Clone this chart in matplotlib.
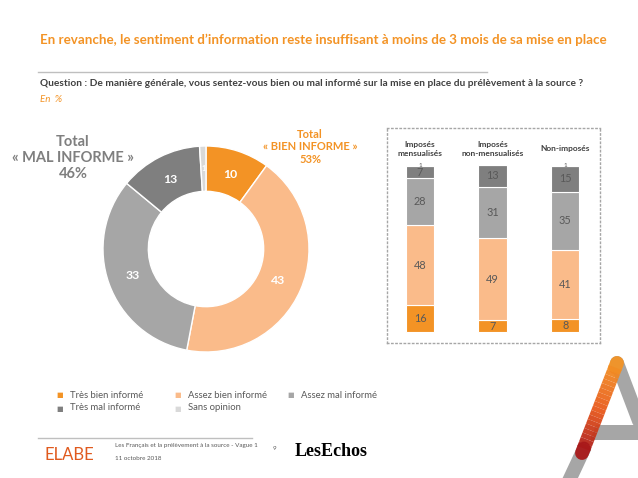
import numpy as np
import matplotlib.pyplot as plt
from matplotlib.patches import Polygon

plt.rcParams['font.family'] = ['Lato', 'DejaVu Sans']

# --- data ---
categories = ['Très bien informé', 'Assez bien informé', 'Assez mal informé',
              'Très mal informé', 'Sans opinion']
colors = ['#F39325', '#FABB8A', '#A6A6A6', '#7F7F7F', '#D9D9D9']
total_values = [10, 43, 33, 13, 1]

groups = ['Imposés\nmensualisés', 'Imposés\nnon-mensualisés', 'Non-imposés']
tres_bien = [16, 7, 8]
assez_bien = [48, 49, 41]
assez_mal = [28, 31, 35]
tres_mal = [7, 13, 15]
sans_opinion = [1, 0, 1]

W, H = 638, 478
fig = plt.figure(figsize=(W / 100, H / 100), dpi=100)


def fx(x):
    return x / W


def fy(y):
    return 1 - y / H


ORANGE = '#F39325'
DARK = '#404040'

# header
fig.text(fx(323), fy(40), "En revanche, le sentiment d’information reste insuffisant à moins de 3 mois de sa mise en place",
         color=ORANGE, fontsize=9.6, fontweight='bold', ha='center', va='center')
fig.add_artist(plt.Line2D([fx(38), fx(487)], [fy(72), fy(72)], color='#BFBFBF', lw=1))
fig.text(fx(40), fy(84), "Question : De manière générale, vous sentez-vous bien ou mal informé sur la mise en place du prélèvement à la source ?",
         color=DARK, fontsize=7.3, fontweight='bold', va='center')
fig.text(fx(40), fy(100), "En  %", color=ORANGE, fontsize=7, style='italic', va='center')

# donut
cx, cy, R = 206, 249, 103
ax = fig.add_axes([fx(cx - R), fy(cy + R), 2 * R / W, 2 * R / H])
wedges, _ = ax.pie(total_values, colors=colors, startangle=90, counterclock=False,
                   radius=1, wedgeprops=dict(width=0.44, edgecolor='white', linewidth=1))
ax.set_aspect('equal')
ax.set_xlim(-1, 1)
ax.set_ylim(-1, 1)
ang = 90
for v, w in zip(total_values, wedges):
    mid = np.deg2rad(ang - v * 3.6 / 2)
    ang -= v * 3.6
    r = 0.76 if v > 1 else 0.78
    ax.text(r * np.cos(mid), r * np.sin(mid), str(v), color='white',
            fontsize=8.8 if v > 1 else 5, fontweight='bold', ha='center', va='center')

fig.text(fx(73), fy(158), "Total\n« MAL INFORME »\n46%", color='#7F7F7F', fontsize=10.5,
         fontweight='bold', ha='center', va='center', linespacing=1.15)
fig.text(fx(310), fy(147), "Total\n« BIEN INFORME »\n53%", color=ORANGE, fontsize=8,
         fontweight='bold', ha='center', va='center', linespacing=1.2)

# stacked bars
ax2 = fig.add_axes([fx(387), fy(343), (600 - 387) / W, (343 - 128) / H])
x = np.arange(len(groups))
bottom = np.zeros(len(groups))
for vals, col in zip([tres_bien, assez_bien, assez_mal, tres_mal, sans_opinion], colors):
    vals = np.array(vals, dtype=float)
    ax2.bar(x, vals, bottom=bottom, width=0.39, color=col, edgecolor='white', linewidth=0.8)
    for xi, b, v in zip(x, bottom, vals):
        if v > 0:
            ax2.text(xi, b + v / 2 + (0.3 if v == 1 else 0), str(int(v)), color='#595959',
                     fontsize=4.5 if v == 1 else 7.8, ha='center', va='center')
    bottom += vals
for xi, g in zip(x, groups):
    ax2.text(xi, 109.5, g, ha='center', va='center', fontsize=6, fontweight='bold',
             color=DARK, linespacing=1.3)
ax2.set_xlim(-0.455, 2.48)
ax2.set_ylim(-6.6, 122)
ax2.set_xticks([])
ax2.set_yticks([])
for s in ax2.spines.values():
    s.set_linestyle((0, (1, 2)))
    s.set_color('#A6A6A6')
    s.set_linewidth(1)

# legend
leg_pos = [(60, 395), (178, 395), (291, 395), (60, 408), (178, 408)]
for (px, py), lab, col in zip(leg_pos, categories, colors):
    fig.text(fx(px), fy(py), '■', color=col, fontsize=5, ha='center', va='center')
    fig.text(fx(px + 10), fy(py), lab, color='#595959', fontsize=6.8, va='center')

# footer
fig.add_artist(plt.Line2D([fx(38), fx(252)], [fy(438), fy(438)], color='#BFBFBF', lw=1))
fig.text(fx(45), fy(455), "ELABE", color='#E05A1E', fontsize=12, va='center')
fig.text(fx(115), fy(446), "Les Français et la prélèvement à la source - Vague 1", color='#595959',
         fontsize=4.5, va='center')
fig.text(fx(115), fy(459), "11 octobre 2018", color='#595959', fontsize=4.5, va='center')
fig.text(fx(273), fy(449), "9", color='#595959', fontsize=4.5, va='center')
fig.text(fx(295), fy(451), "LesEchos", color='black', fontsize=13, va='center',
         family=['Liberation Serif', 'DejaVu Serif'], fontweight='bold')

# logo strokes
ov = fig.add_axes([0, 0, 1, 1], facecolor='none')
ov.set_xlim(0, W)
ov.set_ylim(H, 0)
ov.axis('off')
ov.plot([617, 650], [363, 450], color='#A6A6A6', lw=10, solid_capstyle='round')
ov.plot([582, 560], [453, 500], color='#A6A6A6', lw=10)
ov.add_patch(Polygon([[596, 425], [640, 425], [640, 440], [590, 440]], closed=True,
                     color='#A6A6A6', lw=0))
n = 20
ys = np.linspace(363, 453, n + 1)
xs = np.linspace(617, 582, n + 1)
cmap = plt.matplotlib.colors.LinearSegmentedColormap.from_list('l', ['#F39325', '#E8581B', '#A3121A'])
for i in range(n):
    ov.plot(xs[i:i + 2], ys[i:i + 2], color=cmap(i / n), lw=10,
            solid_capstyle='round' if i in (0, n - 1) else 'butt', alpha=0.95)

fig.savefig('out.png', dpi=100)
